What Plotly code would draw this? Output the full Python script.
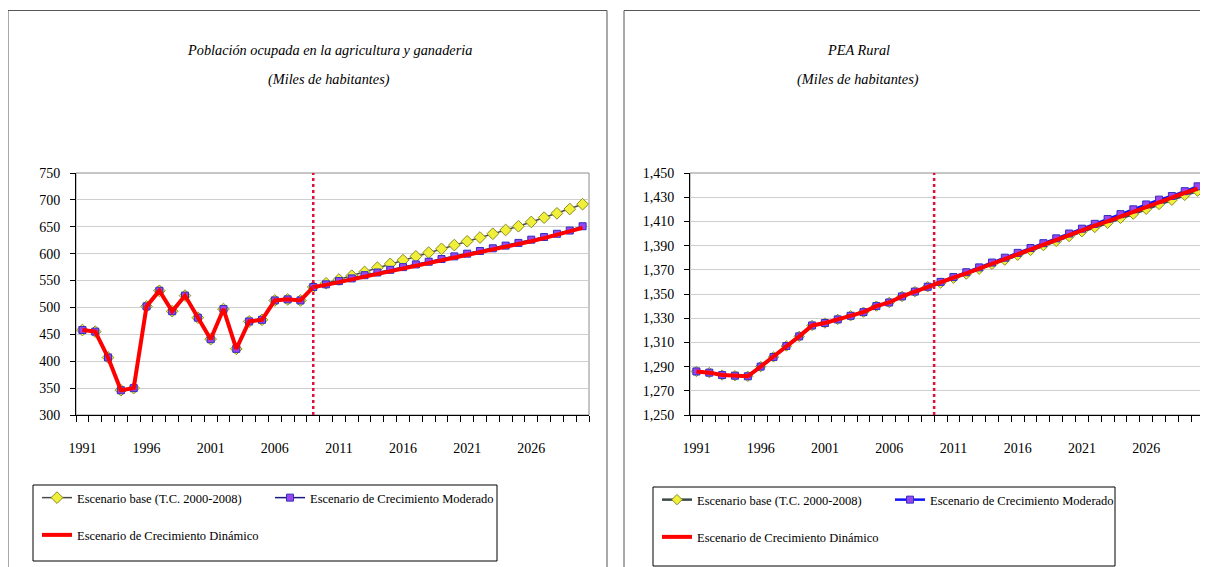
import plotly.graph_objects as go

# the page body keeps its default 8px margin, so the figure is drawn 8px smaller
OFF = 8
W, H = 1208 - OFF, 567 - OFF

years = list(range(1991, 2031))
tick_years = [1991, 1996, 2001, 2006, 2011, 2016, 2021, 2026]

# Población ocupada en la agricultura y ganadería (miles), 1991-2009
agro_hist = [458, 455, 407, 346, 350, 502, 531, 493, 522, 481,
             441, 497, 423, 474, 477, 513, 515, 513, 538]
# projections 2010-2030
agro_base = [545, 552, 559, 566, 574, 581, 588, 595, 602, 609, 616,
             623, 630, 637, 644, 651, 659, 667, 675, 683, 692]
agro_mod = [543, 549, 554, 560, 565, 570, 575, 580, 585, 590, 595,
            600, 605, 610, 615, 620, 626, 631, 637, 643, 651]
agro_dyn = [542, 547, 552, 557, 562, 567, 572, 577, 582, 587, 592,
            597, 602, 607, 612, 618, 623, 629, 635, 641, 648]

# PEA rural (miles), 1991-2009
pea_hist = [1286, 1285, 1283, 1282.5, 1282, 1290, 1298, 1307, 1315, 1324,
            1326, 1329, 1332, 1335, 1340, 1343, 1348, 1352, 1356]
pea_base = [1359, 1363, 1366.5, 1370.5, 1374.5, 1378, 1382, 1386, 1390, 1393.5, 1397.5,
            1401.5, 1405, 1408.5, 1412.5, 1416, 1420, 1424, 1427.5, 1431.5, 1435]
pea_mod = [1360, 1364, 1368, 1372, 1376, 1380, 1384, 1388, 1392, 1396, 1400,
           1404, 1408, 1412, 1416, 1420, 1424, 1428, 1431, 1435, 1439]
pea_dyn = [1359.5, 1363.5, 1367, 1371, 1375, 1379, 1383, 1387, 1391, 1395, 1399,
           1403, 1406.5, 1410, 1414, 1418, 1422, 1426, 1429.5, 1433.5, 1437]

names = ["Escenario base (T.C. 2000-2008)",
         "Escenario de Crecimiento Moderado",
         "Escenario de Crecimiento Dinámico"]

SERIF = "Liberation Serif"


def px(x):
    return (x - OFF) / W


def py(y):
    return 1 - (y - OFF) / H


fig = go.Figure()


def add_panel(xa, ya, hist, base, mod, dyn, styles, legs):
    series = [hist + base, hist + mod, hist + dyn]
    for i, (vals, st) in enumerate(zip(series, styles)):
        fig.add_trace(go.Scatter(
            x=years, y=vals, name=names[i], mode=st["mode"],
            line=dict(color=st["line"], width=st["width"]),
            marker=st.get("marker"),
            xaxis=xa, yaxis=ya,
            legend=legs[1] if i == 1 else legs[0],
            legendgroup=f"{xa}{i}",
            hoverinfo="skip",
        ))


left_styles = [
    dict(mode="lines+markers", line="#4a4a4a", width=1.5,
         marker=dict(symbol="diamond", size=9, color="#f0f03a", line=dict(color="#8a8a20", width=1))),
    dict(mode="lines+markers", line="#1a1a80", width=1.5,
         marker=dict(symbol="square", size=7, color="#9b45ee", line=dict(color="#3030c0", width=1))),
    dict(mode="lines", line="#ff0000", width=4),
]
right_styles = [
    dict(mode="lines+markers", line="#3a4a4a", width=2.5,
         marker=dict(symbol="diamond", size=8, color="#f0f03a", line=dict(color="#8a8a20", width=1))),
    dict(mode="lines+markers", line="#1010ff", width=2.5,
         marker=dict(symbol="square", size=7, color="#9b45ee", line=dict(color="#3030c0", width=1))),
    dict(mode="lines", line="#ff0000", width=4),
]

add_panel("x", "y", agro_hist, agro_base, agro_mod, agro_dyn, left_styles, ["legend", "legend2"])
add_panel("x2", "y2", pea_hist, pea_base, pea_mod, pea_dyn, right_styles, ["legend3", "legend4"])

tickfont = dict(family=SERIF, size=14, color="black")
xcommon = dict(
    range=[1990.5, 2030.5], tickmode="array", tickvals=tick_years,
    ticks="", showgrid=False, showline=True, linecolor="black", linewidth=1,
    minor=dict(tick0=1990.5, dtick=1, ticks="outside", ticklen=6, tickcolor="black", showgrid=False),
    tickfont=tickfont, ticklabelstandoff=20, zeroline=False, fixedrange=True,
)
ycommon = dict(
    showgrid=True, gridcolor="#cfcfcf", gridwidth=1, showline=True, linecolor="black",
    linewidth=1, ticks="outside", ticklen=5, tickcolor="black", tickfont=tickfont,
    ticklabelstandoff=7, zeroline=False, fixedrange=True,
)

fig.update_layout(
    width=W, height=H,
    margin=dict(l=0, r=0, t=0, b=0, autoexpand=False),
    paper_bgcolor="white", plot_bgcolor="white",
    xaxis=dict(domain=[px(76), px(589)], anchor="y", **xcommon),
    yaxis=dict(domain=[py(415), py(173)], anchor="x", range=[300, 750], tick0=300, dtick=50, **ycommon),
    xaxis2=dict(domain=[px(690), px(1204)], anchor="y2", **xcommon),
    yaxis2=dict(domain=[py(415), py(173)], anchor="x2", range=[1250, 1450], tick0=1250, dtick=20,
                tickformat=",d", **ycommon),
    hovermode=False,
)

legfont = dict(family=SERIF, size=12.5, color="black")
for key, x, y in [("legend", 37, 483), ("legend2", 270, 483),
                  ("legend3", 657, 485), ("legend4", 890, 485)]:
    fig.update_layout({key: dict(
        x=px(x), xanchor="left", y=py(y), yanchor="top", orientation="v",
        bgcolor="rgba(0,0,0,0)", borderwidth=0, font=legfont, tracegroupgap=18,
        itemclick=False, itemdoubleclick=False,
    )})

shapes = [
    # panel frames
    dict(type="rect", xref="paper", yref="paper", x0=px(8), x1=px(607), y0=-0.02, y1=py(10.5),
         line=dict(color="#555555", width=1)),
    dict(type="rect", xref="paper", yref="paper", x0=px(624), x1=1.02, y0=-0.02, y1=py(10.5),
         line=dict(color="#555555", width=1)),
    # legend boxes
    dict(type="rect", xref="paper", yref="paper", x0=px(33), x1=px(497), y0=py(561), y1=py(485),
         line=dict(color="black", width=1)),
    dict(type="rect", xref="paper", yref="paper", x0=px(653), x1=px(1115), y0=py(566), y1=py(487),
         line=dict(color="black", width=1)),
    # plot area borders
    dict(type="rect", xref="x domain", yref="y domain", x0=0, x1=1, y0=0, y1=1,
         line=dict(color="#8c8c8c", width=1), layer="below"),
    dict(type="rect", xref="x2 domain", yref="y2 domain", x0=0, x1=1, y0=0, y1=1,
         line=dict(color="#8c8c8c", width=1), layer="below"),
    # projection start markers
    dict(type="line", xref="x", yref="y domain", x0=2009, x1=2009, y0=0, y1=1,
         line=dict(color="#e0103a", width=2.5, dash="dot")),
    dict(type="line", xref="x2", yref="y2 domain", x0=2009.5, x1=2009.5, y0=0, y1=1,
         line=dict(color="#e0103a", width=2.5, dash="dot")),
]
fig.update_layout(shapes=shapes)

titlefont = dict(family=SERIF, size=14.3, color="black", style="italic")
titles = [
    (329, 50, "Población ocupada en la agricultura y ganaderia"),
    (329, 80, "(Miles de habitantes)"),
    (858, 50, "PEA Rural"),
    (858, 80, "(Miles de habitantes)"),
]
for x, y, t in titles:
    fig.add_annotation(x=px(x), y=py(y), xref="paper", yref="paper", text=t,
                       showarrow=False, font=titlefont, xanchor="center", yanchor="middle")

fig.write_html("out.html")
